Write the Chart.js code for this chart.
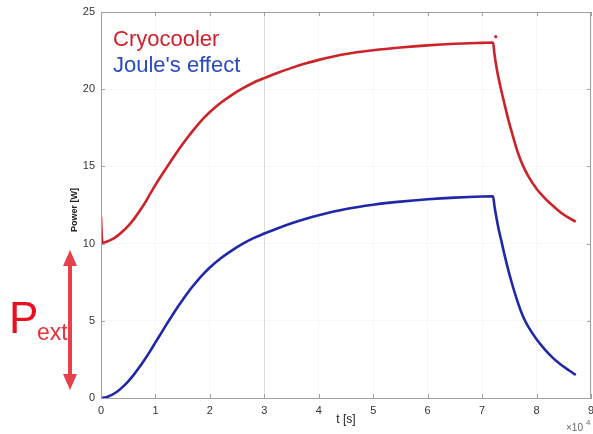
<!DOCTYPE html>
<html>
<head>
<meta charset="utf-8">
<style>
  body { margin: 0; background: #fff; }
  canvas { display: block; }
</style>
</head>
<body>
<canvas id="chart" width="593" height="434"></canvas>
<script src="https://cdn.jsdelivr.net/npm/chart.js"></script>
<script>
// time in units of 10^4 s
const tCryo = [0, 0.015, 0.03, 0.1, 0.2, 0.3, 0.4, 0.5, 0.6, 0.7, 0.8, 0.9, 1.0, 1.1, 1.2, 1.3, 1.4, 1.5, 1.6, 1.7, 1.8, 1.9, 2.0, 2.2, 2.4, 2.6, 2.8, 3.0, 3.25, 3.5, 3.75, 4.0, 4.5, 5.0, 5.5, 6.0, 6.5, 7.0, 7.2,
  7.23, 7.26, 7.3, 7.35, 7.4, 7.48, 7.55, 7.66, 7.75, 7.85, 8.0, 8.15, 8.3, 8.45, 8.6, 8.72];
const cryoPower = [11.74, 10.4, 10.06, 10.12, 10.27, 10.5, 10.8, 11.15, 11.57, 12.06, 12.6, 13.2, 13.8, 14.36, 14.9, 15.43, 15.95, 16.45, 16.92, 17.37, 17.79, 18.17, 18.52, 19.12, 19.62, 20.05, 20.42, 20.72, 21.06, 21.38, 21.66, 21.9, 22.28, 22.52, 22.7, 22.84, 22.94, 23.0, 23.02,
  22.2, 21.5, 20.75, 19.95, 19.2, 18.05, 17.15, 15.85, 15.05, 14.35, 13.55, 12.95, 12.45, 12.0, 11.65, 11.42];

const tJoule = [0, 0.1, 0.2, 0.3, 0.4, 0.5, 0.6, 0.7, 0.8, 0.9, 1.0, 1.1, 1.2, 1.3, 1.4, 1.5, 1.6, 1.7, 1.8, 1.9, 2.0, 2.2, 2.4, 2.6, 2.8, 3.0, 3.25, 3.5, 3.75, 4.0, 4.5, 5.0, 5.5, 6.0, 6.5, 7.0, 7.2,
  7.23, 7.26, 7.3, 7.35, 7.4, 7.48, 7.55, 7.66, 7.75, 7.85, 8.0, 8.15, 8.3, 8.45, 8.6, 8.72];
const joulePower = [0, 0.05, 0.2, 0.42, 0.72, 1.08, 1.5, 1.97, 2.48, 3.02, 3.6, 4.17, 4.75, 5.3, 5.85, 6.35, 6.85, 7.3, 7.72, 8.1, 8.45, 9.05, 9.55, 9.98, 10.35, 10.65, 11.0, 11.32, 11.6, 11.84, 12.24, 12.52, 12.72, 12.87, 12.98, 13.05, 13.06,
  12.35, 11.74, 11.0, 10.23, 9.45, 8.3, 7.4, 6.15, 5.3, 4.6, 3.8, 3.15, 2.6, 2.15, 1.78, 1.49];

// lone sample just after switch-off
const tSpike = [7.25];
const cryoSpike = [23.4];

const xTicks = [0, 1, 2, 3, 4, 5, 6, 7, 8, 9];
const yTicks = [0, 5, 10, 15, 20, 25];

const toPoints = (xs, ys) => xs.map((x, i) => ({ x: x, y: ys[i] }));

const RED = '#cc2229';
const BLUE = '#1f28a8';
const FONT = '"Liberation Sans", Arial, sans-serif';

const decorPlugin = {
  id: 'decor',
  afterDraw(chart) {
    const ctx = chart.ctx;
    const a = chart.chartArea;
    const xs = chart.scales.x, ys = chart.scales.y;
    ctx.save();
    // box
    ctx.strokeStyle = '#a0a0a0';
    ctx.lineWidth = 1;
    ctx.strokeRect(a.left + 0.5, a.top + 0.5, a.right - a.left - 1, a.bottom - a.top);
    // inward ticks
    ctx.beginPath();
    xTicks.forEach(v => {
      const px = Math.round(xs.getPixelForValue(v)) + 0.5;
      ctx.moveTo(px, a.bottom); ctx.lineTo(px, a.bottom - 4);
      ctx.moveTo(px, a.top); ctx.lineTo(px, a.top + 4);
    });
    yTicks.forEach(v => {
      const py = Math.round(ys.getPixelForValue(v)) + 0.5;
      ctx.moveTo(a.left, py); ctx.lineTo(a.left + 4, py);
      ctx.moveTo(a.right, py); ctx.lineTo(a.right - 4, py);
    });
    ctx.stroke();

    // axis titles
    ctx.fillStyle = '#222';
    ctx.textAlign = 'center';
    ctx.textBaseline = 'middle';
    ctx.font = '12px ' + FONT;
    ctx.fillText('t [s]', (a.left + a.right) / 2, 420);
    ctx.save();
    ctx.translate(75, 210);
    ctx.rotate(-Math.PI / 2);
    ctx.font = 'bold 9px ' + FONT;
    ctx.fillText('Power [W]', 0, 0);
    ctx.restore();

    // exponent
    ctx.fillStyle = '#666';
    ctx.textAlign = 'left';
    ctx.font = '10px ' + FONT;
    ctx.fillText('\u00d710', 566, 428);
    ctx.font = '8px ' + FONT;
    ctx.fillText('4', 586, 423);

    // legend texts
    ctx.textBaseline = 'alphabetic';
    ctx.font = '22px ' + FONT;
    ctx.fillStyle = '#d0202a';
    ctx.fillText('Cryocooler', 113, 46);
    ctx.fillStyle = '#2a4bbd';
    ctx.fillText("Joule's effect", 113, 72);

    // P_ext annotation
    ctx.fillStyle = '#e8101e';
    ctx.font = '44px ' + FONT;
    ctx.fillText('P', 9, 333);
    ctx.fillStyle = '#e8323c';
    ctx.font = '23px ' + FONT;
    ctx.fillText('ext', 37, 340);

    // double arrow
    const ax = 70, top = 250, bot = 390;
    ctx.fillStyle = '#e8404a';
    ctx.fillRect(ax - 2, top + 12, 4, bot - top - 24);
    ctx.beginPath();
    ctx.moveTo(ax, top); ctx.lineTo(ax + 7, top + 16); ctx.lineTo(ax - 7, top + 16); ctx.closePath();
    ctx.moveTo(ax, bot); ctx.lineTo(ax + 7, bot - 16); ctx.lineTo(ax - 7, bot - 16); ctx.closePath();
    ctx.fill();
    ctx.restore();
  }
};

new Chart(document.getElementById('chart'), {
  type: 'line',
  data: {
    datasets: [
      {
        label: 'Cryocooler',
        data: toPoints(tCryo, cryoPower),
        borderColor: RED,
        borderWidth: 2.6,
        pointRadius: 0,
        cubicInterpolationMode: 'monotone'
      },
      {
        label: "Joule's effect",
        data: toPoints(tJoule, joulePower),
        borderColor: BLUE,
        borderWidth: 2.6,
        pointRadius: 0,
        cubicInterpolationMode: 'monotone'
      },
      {
        label: 'spike',
        data: toPoints(tSpike, cryoSpike),
        showLine: false,
        pointRadius: 1.6,
        pointBackgroundColor: RED,
        pointBorderWidth: 0
      }
    ]
  },
  options: {
    responsive: false,
    animation: false,
    layout: { autoPadding: false, padding: { left: 0, right: 2, top: 12, bottom: 0 } },
    plugins: {
      legend: { display: false },
      tooltip: { enabled: false }
    },
    scales: {
      x: {
        type: 'linear',
        min: 0,
        max: 9,
        afterFit: s => { s.height = 36; s.paddingLeft = 0; s.paddingRight = 0; },
        afterBuildTicks: s => { s.ticks = xTicks.map(v => ({ value: v })); },
        ticks: {
          padding: 6,
          color: '#333',
          font: { size: 11, family: FONT }
        },
        grid: {
          drawTicks: false,
          color: c => c.tick && c.tick.value === 3 ? '#dcdcdc' : 'rgba(0,0,0,0.03)'
        },
        border: { color: '#a0a0a0' }
      },
      y: {
        min: 0,
        max: 25,
        afterFit: s => { s.width = 101; s.paddingTop = 0; s.paddingBottom = 0; },
        afterBuildTicks: s => { s.ticks = yTicks.map(v => ({ value: v })); },
        ticks: {
          padding: 6,
          color: '#333',
          font: { size: 11, family: FONT }
        },
        grid: {
          drawTicks: false,
          color: 'rgba(0,0,0,0.03)'
        },
        border: { color: '#a0a0a0' }
      }
    }
  },
  plugins: [decorPlugin]
});
</script>
</body>
</html>
